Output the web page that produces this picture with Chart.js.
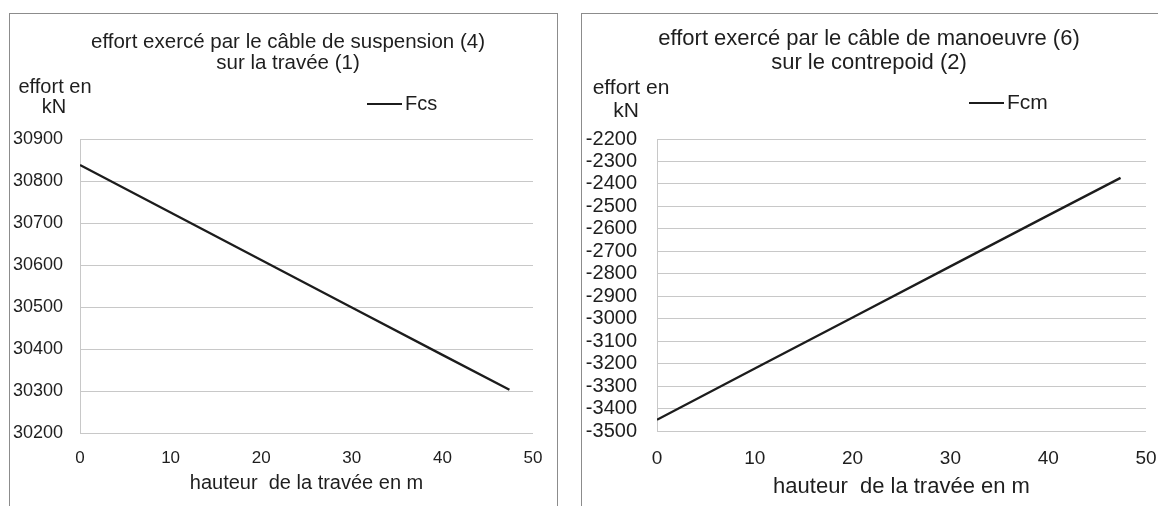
<!DOCTYPE html>
<html lang="fr">
<head>
<meta charset="utf-8">
<title>efforts câbles</title>
<script src="https://cdn.jsdelivr.net/npm/chart.js@4.4.1/dist/chart.umd.min.js"></script>
<style>
  html, body { margin: 0; padding: 0; background: #fff; overflow: hidden; }
  body { width: 1158px; height: 506px; position: relative; }
  .frame { position: absolute; top: 13px; height: 520px; border: 1.5px solid #8c8c8c; box-sizing: border-box; }
  #frameLeft { left: 9px; width: 549px; }
  #frameRight { left: 581px; width: 620px; }
  canvas { position: absolute; }
  #chartFcs { left: 10px; top: 14px; }
  #chartFcm { left: 582px; top: 14px; }
</style>
</head>
<body>
<div class="frame" id="frameLeft"></div>
<div class="frame" id="frameRight"></div>
<canvas id="chartFcs" width="546" height="492"></canvas>
<canvas id="chartFcm" width="576" height="492"></canvas>
<script>
  // heights of the span (m)
  const heights = [0, 10, 20, 30, 40, 47.4];
  // Fcs : effort du câble de suspension (4) sur la travée (1), kN
  const fcsValues = [30838, 30725, 30612, 30499, 30386, 30303];
  // Fcm : effort du câble de manoeuvre (6) sur le contrepoid (2), kN
  const fcmValues = [-3450, -3222, -2995, -2767, -2540, -2373];

  const xTicks = [0, 10, 20, 30, 40, 50];
  const fcsTicks = [30200, 30300, 30400, 30500, 30600, 30700, 30800, 30900];
  const fcmTicks = [-3500, -3400, -3300, -3200, -3100, -3000, -2900, -2800, -2700,
    -2600, -2500, -2400, -2300, -2200];

  const FONT = "'Liberation Sans', Arial, sans-serif";
  const INK = '#1e1e1e';
  const GRID = '#c8c8c8';

  Chart.defaults.font.family = FONT;
  Chart.defaults.color = INK;

  // title, "effort en / kN" caption and the small legend
  // (drawn here because the Excel layout puts them off-centre)
  const captionPlugin = {
    id: 'caption',
    afterDraw(chart, args, opts) {
      const ctx = chart.ctx;
      ctx.save();
      ctx.fillStyle = INK;
      ctx.textAlign = 'center';
      ctx.textBaseline = 'middle';

      ctx.font = `${opts.titleSize}px ${FONT}`;
      opts.title.forEach((line, i) => {
        ctx.fillText(line, opts.titleX, opts.titleY + i * opts.titleGap);
      });

      ctx.font = `${opts.size}px ${FONT}`;
      ctx.fillText('effort en', opts.unitX, opts.unitY);
      ctx.fillText('kN', opts.kNX, opts.unitY + opts.gap);

      const ds = chart.data.datasets[0];
      ctx.strokeStyle = ds.borderColor;
      ctx.lineWidth = 2;
      ctx.beginPath();
      ctx.moveTo(opts.legX, opts.legY);
      ctx.lineTo(opts.legX + 35, opts.legY);
      ctx.stroke();
      ctx.textAlign = 'left';
      ctx.fillText(ds.label, opts.legX + 38, opts.legY);
      ctx.restore();
    }
  };

  function makeChart(id, cfg) {
    const pts = heights.map((h, i) => ({ x: h, y: cfg.values[i] }));
    return new Chart(document.getElementById(id), {
      type: 'line',
      data: {
        datasets: [{
          label: cfg.label,
          data: pts,
          borderColor: '#1c1c1c',
          borderWidth: 2.3,
          pointRadius: 0,
          tension: 0,
        }],
      },
      options: {
        responsive: false,
        animation: false,
        layout: { padding: { left: 0, right: cfg.padRight, top: 125, bottom: 0 } },
        plugins: {
          legend: { display: false },
          tooltip: { enabled: false },
          title: { display: false },
          caption: cfg.caption,
        },
        scales: {
          x: {
            type: 'linear',
            min: xTicks[0],
            max: xTicks[xTicks.length - 1],
            ticks: {
              stepSize: 10, padding: 0, font: { size: cfg.xTickSize }, color: INK,
              callback: (v) => String(v),
            },
            grid: { display: false, drawTicks: true, tickLength: cfg.xPad },
            border: { display: false },
            title: {
              display: true,
              text: 'hauteur  de la travée en m',
              color: INK,
              font: { size: cfg.xTitleSize },
              padding: { top: 0, bottom: cfg.xTitleBottom },
            },
            afterFit: (s) => { s.height = cfg.xHeight; },
          },
          y: {
            min: cfg.ticks[0],
            max: cfg.ticks[cfg.ticks.length - 1],
            ticks: {
              stepSize: 100, autoSkip: false, padding: cfg.yPad,
              font: { size: cfg.yTickSize }, color: INK,
              callback: (v) => String(v),
            },
            grid: { color: GRID, lineWidth: 1, drawTicks: false },
            border: { display: true, color: GRID, width: 1 },
            afterFit: (s) => { s.width = cfg.yWidth; },
          },
        },
      },
      plugins: [captionPlugin],
    });
  }

  makeChart('chartFcs', {
    label: 'Fcs',
    values: fcsValues,
    ticks: fcsTicks,
    padRight: 23,
    xPad: 15, xTickSize: 17, xTitleSize: 20, xTitleBottom: 11, xHeight: 73,
    yPad: 17, yTickSize: 18, yWidth: 70,
    caption: {
      title: ['effort exercé par le câble de suspension (4)', 'sur la travée (1)'],
      titleSize: 20.5, titleX: 278, titleY: 28, titleGap: 21,
      size: 20, unitX: 45, kNX: 44, unitY: 73, gap: 20, legX: 357, legY: 90,
    },
  });

  makeChart('chartFcm', {
    label: 'Fcm',
    values: fcmValues,
    ticks: fcmTicks,
    padRight: 12,
    xPad: 16, xTickSize: 19, xTitleSize: 22, xTitleBottom: 6, xHeight: 75,
    yPad: 20, yTickSize: 20, yWidth: 75,
    caption: {
      title: ['effort exercé par le câble de manoeuvre (6)', 'sur le contrepoid (2)'],
      titleSize: 22, titleX: 287, titleY: 25, titleGap: 24,
      size: 21, unitX: 49, kNX: 44, unitY: 74, gap: 23, legX: 387, legY: 89,
    },
  });
</script>
</body>
</html>
